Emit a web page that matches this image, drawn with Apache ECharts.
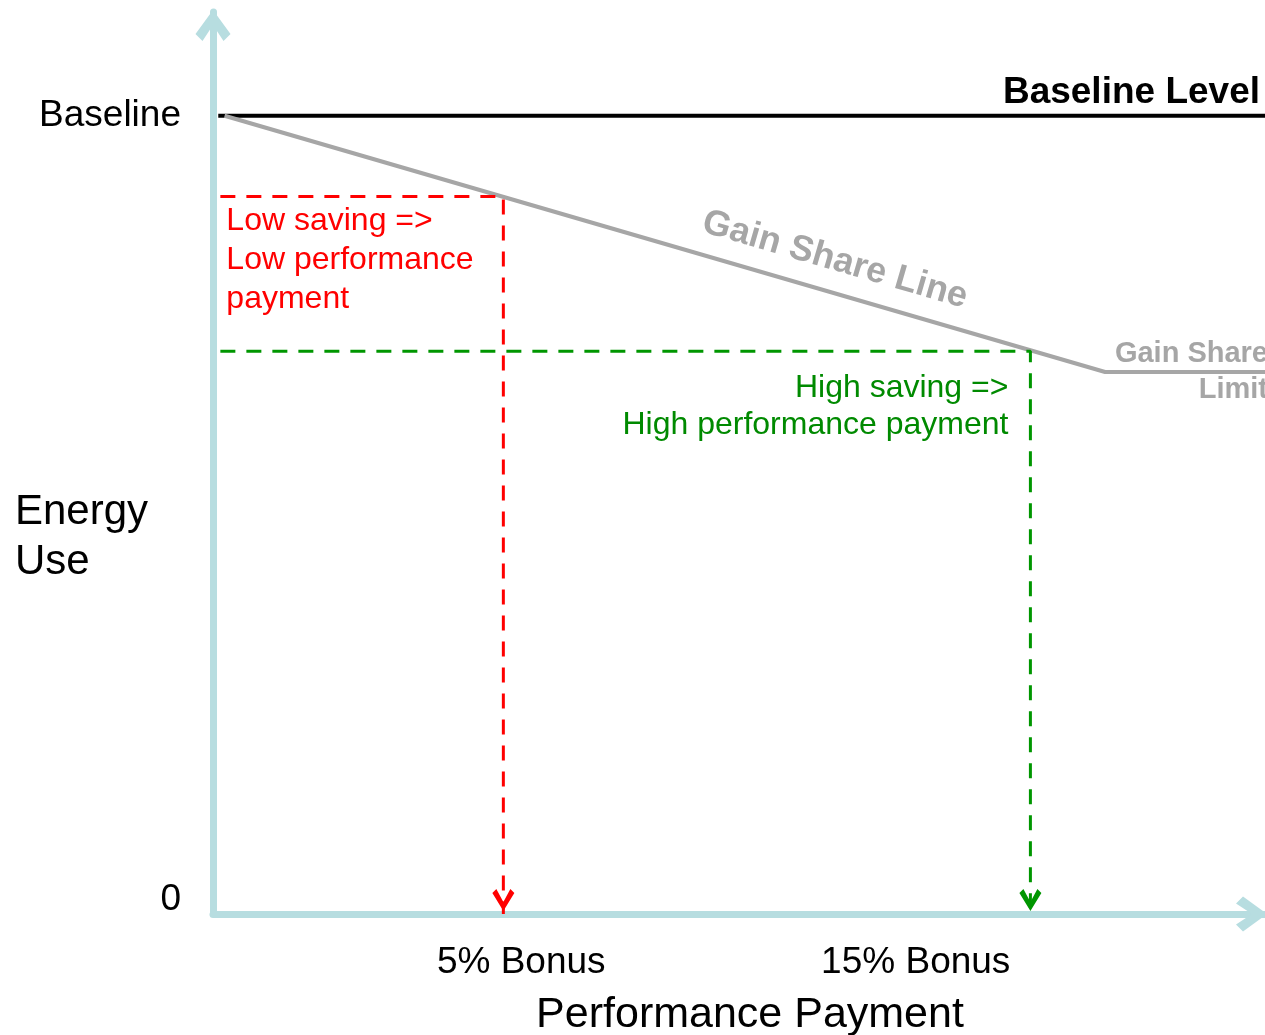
<!DOCTYPE html>
<html>
<head>
<meta charset="utf-8">
<script src="https://cdn.jsdelivr.net/npm/echarts@6/dist/echarts.min.js"></script>
<style>
  html, body { margin: 0; padding: 0; background: #fff; }
  #chart { width: 1265px; height: 1035px; }
</style>
</head>
<body>
<div id="chart"></div>
<script>
// tick labels
var xTickValues = [29.3, 66.8];
var xTickLabels = ['5% Bonus', '15% Bonus'];
var yTickValues = [0, 100];
var yTickLabels = ['0', 'Baseline'];

// lines (x = performance payment, y = energy use)
var baselineX = [0.5, 100];
var baselineY = [100, 100];
var gainX = [1.1, 84.8, 100];
var gainY = [100, 67.9, 67.9];
var lowX = [0.7, 27.6, 27.6];
var lowY = [89.9, 89.9, 0];
var highX = [0.7, 77.7, 77.7];
var highY = [70.5, 70.5, 0];

var FONT = 'Liberation Sans, Arial, Helvetica, sans-serif';
var axisColor = '#b7dde0';
var gray = '#a6a6a6';
var red = '#ff0000';
var green = '#009600';

// open chevrons
var arrowUp = 'path://M17.5,0 L35,24 L28,31 L17.5,15 L7,31 L0,24 Z';
var arrowDown = 'path://M0,4 L4,0 L11,13 L18,0 L22,4 L11,22 Z';

function zip(xs, ys) {
  return xs.map(function (x, i) { return [x, ys[i]]; });
}

var chart = echarts.init(document.getElementById('chart'));

function dashed(name, xs, ys, color) {
  return {
    name: name,
    type: 'line',
    data: zip(xs, ys),
    symbol: 'none',
    silent: true,
    z: 4,
    lineStyle: { color: color, width: 3, type: [15, 11] },
    markPoint: {
      symbol: arrowDown,
      symbolSize: [22, 22],
      symbolOffset: [0, -14],
      silent: true,
      itemStyle: { color: color },
      label: { show: false },
      data: [{ coord: [xs[xs.length - 1], ys[ys.length - 1]] }]
    }
  };
}

var axisLine = {
  show: true,
  onZero: false,
  symbol: ['none', arrowUp],
  symbolSize: [35, 31],
  symbolOffset: [0, -13.5],
  lineStyle: { color: axisColor, width: 7 }
};

var option = {
  animation: false,
  backgroundColor: '#fff',
  grid: { left: 213, right: 0, top: 12, bottom: 121, containLabel: false, outerBoundsMode: 'none' },
  xAxis: {
    type: 'value',
    min: 0,
    max: 100,
    name: 'Performance Payment',
    nameLocation: 'middle',
    nameGap: 80,
    nameTextStyle: { fontSize: 43, color: '#000', fontFamily: FONT, padding: [0, 0, 0, 22] },
    axisLine: axisLine,
    axisTick: { show: false },
    splitLine: { show: false },
    axisLabel: {
      customValues: xTickValues,
      formatter: function (v) { return xTickLabels[xTickValues.indexOf(v)]; },
      fontSize: 37,
      color: '#000',
      fontFamily: FONT,
      margin: 30
    }
  },
  yAxis: {
    type: 'value',
    min: 0,
    max: 113,
    axisLine: axisLine,
    axisTick: { show: false },
    splitLine: { show: false },
    axisLabel: {
      customValues: yTickValues,
      formatter: function (v) {
        var t = yTickLabels[yTickValues.indexOf(v)];
        return v === 0 ? '{z|' + t + '}' : t;
      },
      fontSize: 37,
      color: '#000',
      fontFamily: FONT,
      margin: 32,
      rich: {
        z: { fontSize: 37, color: '#000', fontFamily: FONT, padding: [0, 0, 28, 0] }
      }
    }
  },
  series: [
    {
      name: 'Baseline Level',
      type: 'line',
      data: zip(baselineX, baselineY),
      symbol: 'none',
      silent: true,
      z: 3,
      lineStyle: { color: '#000', width: 4 }
    },
    {
      name: 'Gain Share Line',
      type: 'line',
      data: zip(gainX, gainY),
      symbol: 'none',
      silent: true,
      z: 3,
      lineStyle: { color: gray, width: 4 }
    },
    dashed('Low saving', lowX, lowY, red),
    dashed('High saving', highX, highY, green)
  ]
};

chart.setOption(option);

// annotations placed from the data positions
function px(x, y) {
  return chart.convertToPixel({ gridIndex: 0 }, [x, y]);
}
function txt(x, y, text, o) {
  return {
    type: 'text',
    x: x,
    y: y,
    rotation: o.rotation || 0,
    silent: true,
    z: 10,
    style: {
      text: text,
      fill: o.color,
      fontSize: o.size,
      fontWeight: o.weight || 'normal',
      fontFamily: FONT,
      lineHeight: o.lh || o.size,
      align: o.align || 'left',
      textAlign: o.align || 'left',
      verticalAlign: o.va || 'top',
      textVerticalAlign: o.va || 'top'
    }
  };
}

var lowPt = px(lowX[0], lowY[0]);
var highPt = px(highX[1], highY[1]);
var limPt = px(gainX[2], gainY[2]);
var basePt = px(baselineX[1], baselineY[1]);
var g0 = px(gainX[0], gainY[0]);
var g1 = px(gainX[1], gainY[1]);
var ang = Math.atan2(g1[1] - g0[1], g1[0] - g0[0]);
var t = 0.683;
var gx = g0[0] + t * (g1[0] - g0[0]) + 32 * Math.sin(ang);
var gy = g0[1] + t * (g1[1] - g0[1]) - 32 * Math.cos(ang);

chart.setOption({
  graphic: [
    txt(15, 537, 'Energy\nUse', { color: '#000', size: 42, lh: 50, va: 'middle' }),
    txt(basePt[0] - 5, basePt[1] - 23, 'Baseline Level', { color: '#000', size: 37, weight: 'bold', align: 'right', va: 'middle' }),
    txt(lowPt[0] + 6, lowPt[1] + 5, 'Low saving =>\nLow performance\npayment', { color: red, size: 32, lh: 39 }),
    txt(highPt[0] - 22, highPt[1] + 18, 'High saving =>\nHigh performance payment', { color: '#008a00', size: 32, lh: 37, align: 'right' }),
    txt(gx, gy, 'Gain Share Line', { color: gray, size: 36, weight: 'bold', align: 'center', va: 'middle', rotation: -ang }),
    txt(limPt[0] + 3, limPt[1], 'Gain Share\nLimit', { color: gray, size: 29, weight: 'bold', lh: 36, align: 'right', va: 'middle' })
  ]
});
</script>
</body>
</html>
